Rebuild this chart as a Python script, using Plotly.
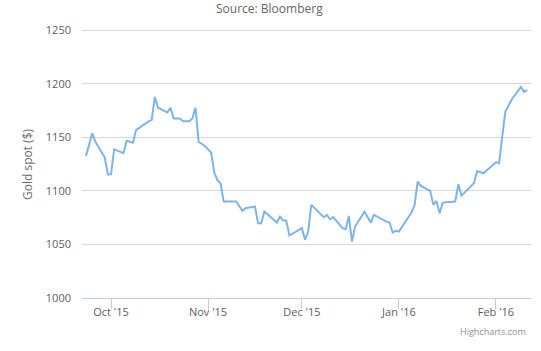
import plotly.graph_objects as go

dates = [
    "2015-09-23", "2015-09-25", "2015-09-26", "2015-09-29", "2015-09-30",
    "2015-10-01", "2015-10-02", "2015-10-05", "2015-10-06", "2015-10-08",
    "2015-10-09", "2015-10-11", "2015-10-13", "2015-10-14", "2015-10-15",
    "2015-10-16", "2015-10-19", "2015-10-20", "2015-10-21", "2015-10-23",
    "2015-10-24", "2015-10-26", "2015-10-27", "2015-10-28", "2015-10-29",
    "2015-10-31", "2015-11-02", "2015-11-03", "2015-11-04", "2015-11-05",
    "2015-11-06", "2015-11-10", "2015-11-12", "2015-11-13", "2015-11-16",
    "2015-11-17", "2015-11-18", "2015-11-19", "2015-11-23", "2015-11-24",
    "2015-11-25", "2015-11-26", "2015-11-27", "2015-12-01", "2015-12-02",
    "2015-12-03", "2015-12-04", "2015-12-08", "2015-12-09", "2015-12-10",
    "2015-12-11", "2015-12-14", "2015-12-15", "2015-12-16", "2015-12-17",
    "2015-12-18", "2015-12-21", "2015-12-23", "2015-12-24", "2015-12-28",
    "2015-12-29", "2015-12-30", "2015-12-31", "2016-01-01", "2016-01-05",
    "2016-01-06", "2016-01-07", "2016-01-08", "2016-01-11", "2016-01-12",
    "2016-01-13", "2016-01-14", "2016-01-15", "2016-01-19", "2016-01-20",
    "2016-01-21", "2016-01-25", "2016-01-26", "2016-01-28", "2016-02-01",
    "2016-02-02", "2016-02-03", "2016-02-04", "2016-02-06", "2016-02-09",
    "2016-02-10", "2016-02-11",
]

gold_spot = [
    1132.5, 1153.6, 1145.8, 1131.0, 1115.2,
    1115.4, 1138.7, 1135.2, 1146.7, 1144.9,
    1156.7, 1161.0, 1164.8, 1166.0, 1187.7,
    1177.5, 1173.2, 1177.5, 1167.6, 1167.6,
    1165.0, 1165.0, 1167.6, 1177.5, 1145.8,
    1141.8, 1135.6, 1117.3, 1110.0, 1107.0,
    1090.0, 1090.0, 1081.3, 1083.8, 1085.3,
    1069.8, 1069.8, 1080.6, 1070.4, 1076.0,
    1072.3, 1072.3, 1058.3, 1065.2, 1054.3,
    1062.0, 1086.9, 1075.4, 1077.6, 1073.5,
    1075.4, 1065.2, 1064.2, 1076.6, 1052.7,
    1066.7, 1080.6, 1070.4, 1077.6, 1071.3,
    1070.4, 1061.1, 1062.7, 1062.0, 1079.7,
    1086.9, 1108.6, 1104.6, 1099.9, 1086.9,
    1090.6, 1079.1, 1089.0, 1090.0, 1106.1,
    1095.5, 1107.0, 1118.5, 1116.4, 1126.6,
    1125.7, 1150.0, 1173.7, 1185.0, 1197.0,
    1192.4, 1194.0,
]

y_ticks = [1000, 1050, 1100, 1150, 1200, 1250]

FONT = "Open Sans, DejaVu Sans, sans-serif"

fig = go.Figure()
fig.add_trace(go.Scatter(
    x=dates, y=gold_spot, mode="lines",
    line=dict(color="#7cb5ec", width=2),
    hoverinfo="x+y", showlegend=False,
))

fig.update_layout(
    width=541, height=351,
    margin=dict(l=82, r=10, t=29, b=53),
    paper_bgcolor="white", plot_bgcolor="white",
    font=dict(family=FONT, size=11, color="#606060"),
    xaxis=dict(
        type="date",
        range=["2015-09-21 17:30", "2016-02-12 05:00"],
        tick0="2015-10-01", dtick="M1", tickformat="%b '%y",
        ticks="outside", ticklen=10, tickcolor="#C0D0E0", tickwidth=1,
        ticklabelstandoff=-6,
        showline=True, linecolor="#C0D0E0", linewidth=1,
        showgrid=False, zeroline=False,
        tickfont=dict(family=FONT, size=11, color="#606060"),
    ),
    yaxis=dict(
        range=[1000, 1251], tickvals=y_ticks,
        showgrid=True, gridcolor="#D8D8D8", gridwidth=1,
        zeroline=False, showline=False, ticks="",
        ticklabelstandoff=10,
        tickfont=dict(family=FONT, size=11, color="#606060"),
    ),
    annotations=[
        dict(text="Source: Bloomberg", xref="paper", yref="paper",
             x=0.4187, y=1.076, xanchor="center", yanchor="middle",
             showarrow=False, font=dict(family=FONT, size=12, color="#666666")),
        dict(text="Gold spot ($)", xref="paper", yref="paper",
             x=-0.1214, y=0.5, xanchor="center", yanchor="middle",
             textangle=-90, showarrow=False,
             font=dict(family=FONT, size=12, color="#707070")),
        dict(text="Highcharts.com", xref="paper", yref="paper",
             x=0.9933, y=-0.1245, xanchor="right", yanchor="middle",
             showarrow=False, font=dict(family=FONT, size=9, color="#909090")),
    ],
)

fig.write_html("out.html")
